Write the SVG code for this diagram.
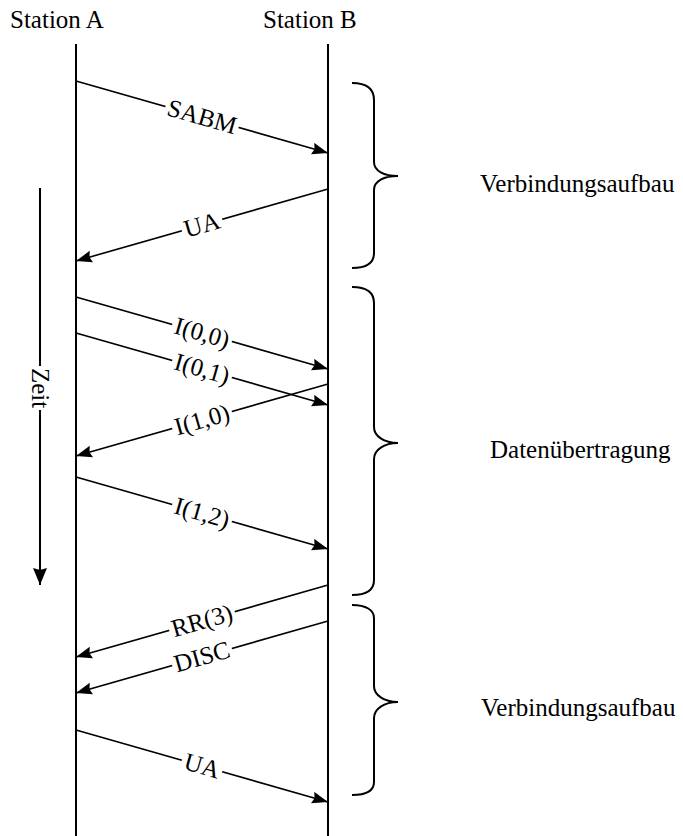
<svg xmlns="http://www.w3.org/2000/svg" width="683" height="836" viewBox="0 0 683 836">
<style>
text{font-family:"Liberation Serif","Times New Roman",serif;font-size:25px;fill:#000}
.life{stroke:#000;stroke-width:2;fill:none}
.msg{stroke:#000;stroke-width:1.6;fill:none;marker-end:url(#ah)}
.brace{stroke:#000;stroke-width:2;fill:none}
.bg{fill:#fff}
.lbl{text-anchor:middle}
</style>
<defs>
<marker id="ah" markerUnits="userSpaceOnUse" markerWidth="17" markerHeight="13" refX="16" refY="6" orient="auto">
<path d="M0,0 L16,6 L0,12 L2,6 Z" fill="#000"/>
</marker>
<marker id="ah2" markerUnits="userSpaceOnUse" markerWidth="18" markerHeight="15" refX="17" refY="7" orient="auto">
<path d="M0,0 L17,7 L0,14 L2,7 Z" fill="#000"/>
</marker>
</defs>
<g id="stationA">
<text x="10" y="28">Station A</text>
<line class="life" x1="76" y1="44" x2="76" y2="836"/>
</g>
<g id="stationB">
<text x="263" y="28">Station B</text>
<line class="life" x1="328" y1="44" x2="328" y2="836"/>
</g>
<g id="zeit">
<line x1="40" y1="188" x2="40" y2="366" stroke="#000" stroke-width="2"/>
<line x1="40" y1="410" x2="40" y2="585" stroke="#000" stroke-width="2" marker-end="url(#ah2)"/>
<text transform="translate(40,388) rotate(90)" class="lbl" y="8">Zeit</text>
</g>
<g id="connectors">
<g id="m1"><line class="msg" x1="76" y1="81" x2="328" y2="153"/>
<g transform="translate(202,117) rotate(15.95)"><rect class="bg" x="-38" y="-12" width="76" height="24"/><text class="lbl" y="8">SABM</text></g></g>
<g id="m2"><line class="msg" x1="328" y1="189" x2="76" y2="261"/>
<g transform="translate(202,225) rotate(-15.95)"><rect class="bg" x="-21" y="-12" width="42" height="24"/><text class="lbl" y="8">UA</text></g></g>
<g id="m3"><line class="msg" x1="76" y1="297" x2="328" y2="369"/>
<g transform="translate(202,333) rotate(15.95)"><rect class="bg" x="-31" y="-12" width="62" height="24"/><text class="lbl" y="8">I(0,0)</text></g></g>
<g id="m4"><line class="msg" x1="76" y1="333" x2="328" y2="405"/>
<g transform="translate(202,369) rotate(15.95)"><rect class="bg" x="-31" y="-12" width="62" height="24"/><text class="lbl" y="8">I(0,1)</text></g></g>
<g id="m5"><line class="msg" x1="328" y1="384" x2="76" y2="456"/>
<g transform="translate(202,420) rotate(-15.95)"><rect class="bg" x="-31" y="-12" width="62" height="24"/><text class="lbl" y="8">I(1,0)</text></g></g>
<g id="m6"><line class="msg" x1="76" y1="477" x2="328" y2="549"/>
<g transform="translate(202,513) rotate(15.95)"><rect class="bg" x="-31" y="-12" width="62" height="24"/><text class="lbl" y="8">I(1,2)</text></g></g>
<g id="m7"><line class="msg" x1="328" y1="585" x2="76" y2="657"/>
<g transform="translate(202,621) rotate(-15.95)"><rect class="bg" x="-34" y="-12" width="68" height="24"/><text class="lbl" y="8">RR(3)</text></g></g>
<g id="m8"><line class="msg" x1="328" y1="621" x2="76" y2="693"/>
<g transform="translate(202,657) rotate(-15.95)"><rect class="bg" x="-31" y="-12" width="62" height="24"/><text class="lbl" y="8">DISC</text></g></g>
<g id="m9"><line class="msg" x1="76" y1="730" x2="328" y2="802"/>
<g transform="translate(202,766) rotate(15.95)"><rect class="bg" x="-21" y="-12" width="42" height="24"/><text class="lbl" y="8">UA</text></g></g>
</g>
<g id="phase1">
<path class="brace" d="M352,83 C366,83 374,88 374,100 L374,162 C374,171 384,176 398,176 C384,176 374,181 374,190 L374,253 C374,264 366,268 352,268"/>
<text x="480" y="192">Verbindungsaufbau</text>
</g>
<g id="phase2">
<path class="brace" d="M352,287 C366,287 374,292 374,303 L374,427 C374,436 384,443 398,443 C384,443 374,450 374,459 L374,580 C374,591 366,595 352,595"/>
<text x="490" y="458">Datenübertragung</text>
</g>
<g id="phase3">
<path class="brace" d="M352,605 C366,605 374,610 374,618 L374,686 C374,695 384,702 398,702 C384,702 374,709 374,718 L374,782 C374,791 366,795 352,795"/>
<text x="481" y="716">Verbindungsaufbau</text>
</g>
</svg>
